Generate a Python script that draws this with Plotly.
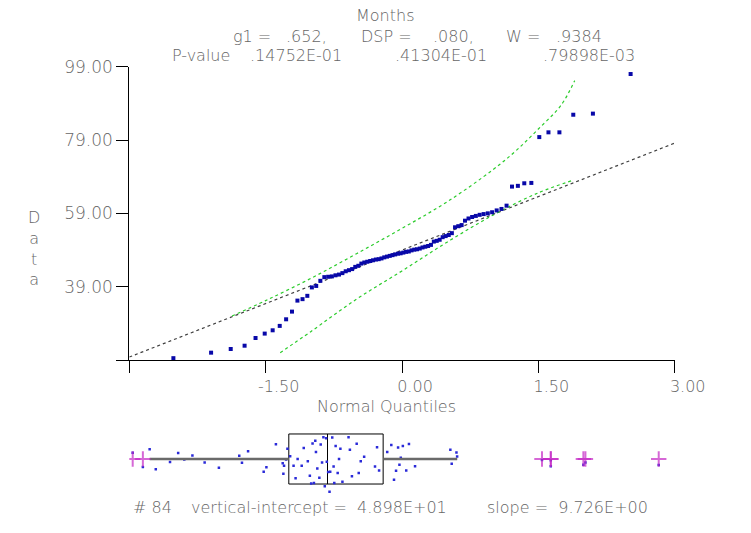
import numpy as np
import plotly.graph_objects as go
from statistics import NormalDist

W, H = 751, 533

# Sorted sample (Months), n = 84
months = [
    19.5, 21.0, 22.0, 22.9, 25.0, 26.2, 27.1, 28.3, 30.1, 32.2,
    35.2, 35.6, 36.5, 38.8, 39.2, 40.6, 41.6, 41.7, 41.8, 42.1,
    42.3, 42.7, 43.2, 43.5, 43.8, 44.4, 44.7, 45.3, 45.6, 45.8,
    46.0, 46.2, 46.4, 46.5, 46.7, 47.0, 47.2, 47.4, 47.6, 47.8,
    48.0, 48.1, 48.3, 48.5, 48.6, 48.9, 49.1, 49.2, 49.4, 49.7,
    49.9, 50.1, 50.4, 51.3, 51.5, 51.8, 52.5, 52.8, 53.1, 53.6,
    55.2, 55.5, 55.8, 57.0, 57.6, 58.0, 58.3, 58.6, 58.8, 59.0,
    59.3, 59.8, 60.2, 61.1, 66.3, 66.5, 67.2, 67.3, 79.8, 81.1,
    81.1, 85.9, 86.2, 97.0,
]

# Fitted reference line
fit_intercept = 48.98
fit_slope = 9.726

# Summary statistics shown in the header
stat_g1 = ".652"
stat_dsp = ".080"
stat_w = ".9384"
pval_g1 = ".14752E-01"
pval_dsp = ".41304E-01"
pval_w = ".79898E-03"

# Confidence envelope (normal quantile, data value)
upper_band_q = [-1.87, -1.5, -1.0, -0.5, 0.0, 0.5, 1.0, 1.25, 1.5, 1.75, 1.9]
upper_band_v = [31.0, 35.2, 41.3, 48.0, 54.9, 62.2, 70.9, 76.0, 82.0, 88.5, 95.2]
lower_band_q = [-1.34, -1.0, -0.5, 0.0, 0.5, 1.0, 1.5, 1.88]
lower_band_v = [21.0, 26.8, 35.6, 43.3, 51.2, 58.5, 64.6, 68.0]

x_ticks = [-3.0, -1.5, 0.0, 1.5, 3.0]
x_tick_text = ["", "-1.50", "0.00", "1.50", "3.00"]
y_ticks = [19, 39, 59, 79, 99]
y_tick_text = ["", "39.00", "59.00", "79.00", "99.00"]
x_range = [-3.0, 3.0]
y_range = [19, 99]

TEXT = "#666666"
FONT = "DejaVu Sans"
WEIGHT = 200


def fx(p):
    return p / W


def fy(p):
    return 1 - p / H


def tfont(size):
    return dict(family=FONT, size=size, color=TEXT, weight=WEIGHT)


data = np.array(sorted(months))
n = len(data)
nd = NormalDist()
quantiles = [nd.inv_cdf((i - 0.5) / n) for i in range(1, n + 1)]

# quartiles from the two halves of the ordered sample
half = n // 2
q1 = float(np.median(data[:half]))
q3 = float(np.median(data[n - half:]))
iqr = q3 - q1
lo_f, hi_f = q1 - 1.5 * iqr, q3 + 1.5 * iqr
inside = data[(data >= lo_f) & (data <= hi_f)]
whisk_lo, whisk_hi = float(inside.min()), float(inside.max())
outliers = data[(data < lo_f) | (data > hi_f)]

fig = go.Figure()

# fitted line across the whole quantile axis
fit_x = x_range
fit_y = [fit_intercept + fit_slope * v for v in fit_x]
fig.add_trace(go.Scatter(
    x=fit_x, y=fit_y, mode="lines",
    line=dict(color="#404040", width=1.2, dash="dot"),
    hoverinfo="skip"))

for bq, bv in ((upper_band_q, upper_band_v), (lower_band_q, lower_band_v)):
    fig.add_trace(go.Scatter(
        x=bq, y=bv, mode="lines",
        line=dict(color="#2ccc2c", width=1.2, dash="dot", shape="spline"),
        hoverinfo="skip"))

fig.add_trace(go.Scatter(
    x=quantiles, y=data, mode="markers",
    marker=dict(symbol="square", size=4, color="#0808a8",
                line=dict(width=0)),
    cliponaxis=False))

# box plot of the same sample (box only, its own points hidden)
fig.add_trace(go.Box(
    x=data, y0=0, orientation="h", xaxis="x2", yaxis="y2",
    boxpoints="all", jitter=0, pointpos=0, quartilemethod="exclusive",
    width=1.43, whiskerwidth=0, fillcolor="white",
    line=dict(color="black", width=1),
    marker=dict(opacity=0, size=1),
    hoverinfo="skip"))

# jittered sample points spread over the box band
fig.add_trace(go.Box(
    x=data, y0=0, orientation="h", xaxis="x2", yaxis="y2",
    boxpoints="all", jitter=1, pointpos=0, quartilemethod="exclusive",
    width=1.9, whiskerwidth=0, fillcolor="rgba(0,0,0,0)",
    line=dict(color="rgba(0,0,0,0)", width=0),
    marker=dict(symbol="square", size=2.5, color="#2a2ad8"),
    hoverinfo="skip"))

fig.add_trace(go.Scatter(
    x=[whisk_lo, q1, None, q3, whisk_hi], y=[0, 0, None, 0, 0],
    xaxis="x2", yaxis="y2", mode="lines",
    line=dict(color="#6a6a6a", width=2.5), hoverinfo="skip"))

fig.add_trace(go.Scatter(
    x=outliers, y=[0] * len(outliers), xaxis="x2", yaxis="y2",
    mode="markers",
    marker=dict(symbol="cross-thin", size=11,
                line=dict(color="rgba(196,40,196,0.7)", width=2)),
    hoverinfo="skip"))

axis_common = dict(
    showgrid=False, zeroline=False, showline=True, linecolor="black",
    linewidth=1, ticks="outside", ticklen=12, tickcolor="black",
    tickwidth=1, automargin=False,
)

fig.update_layout(
    template="none",
    width=W, height=H,
    margin=dict(l=0, r=0, t=0, b=0, pad=0, autoexpand=False),
    paper_bgcolor="white", plot_bgcolor="white",
    showlegend=False, boxmode="overlay",
    font=tfont(16),
    xaxis=dict(domain=[fx(129.3), fx(674.7)], range=x_range,
               tickmode="array", tickvals=x_ticks, ticktext=x_tick_text,
               tickfont=tfont(16), ticklabelshift=13,
               anchor="y", **axis_common),
    yaxis=dict(domain=[fy(360), fy(66.7)], range=y_range,
               tickmode="array", tickvals=y_ticks, ticktext=y_tick_text,
               tickfont=tfont(17), anchor="x",
               **axis_common),
    xaxis2=dict(domain=[fx(129.3), fx(672.3)], range=y_range,
                visible=False, anchor="y2", automargin=False),
    yaxis2=dict(domain=[fy(494), fy(424)], range=[-1, 1],
                visible=False, anchor="x2", automargin=False),
)


def label(text, x, y, anchor="left", size=16):
    fig.add_annotation(
        text=text, x=fx(x), y=fy(y), xref="paper", yref="paper",
        xanchor=anchor, yanchor="middle", showarrow=False,
        font=tfont(size))


# header
label("Months", 385, 15, anchor="center")
label("g1 =", 231, 36)
label(stat_g1 + ",", 284, 36)
label("DSP =", 359, 36)
label(stat_dsp + ",", 431, 36)
label("W =", 504, 36)
label(stat_w, 554, 36)
label("P-value", 170, 56)
label(pval_g1, 248, 56)
label(pval_dsp, 393, 56)
label(pval_w, 541, 56)

# axis titles
label("Normal Quantiles", 386, 406, anchor="center", size=16)
fig.add_annotation(
    text="D<br>a<br>t<br>a", x=fx(34), y=fy(248), xref="paper",
    yref="paper", xanchor="center", yanchor="middle", showarrow=False,
    align="center", font=tfont(16))

# footer
label("# %d" % n, 131, 507)
label("vertical-intercept =  %.3E" % fit_intercept, 189, 507)
label("slope =  %.3E" % fit_slope, 485, 507)

fig.write_html("out.html")
